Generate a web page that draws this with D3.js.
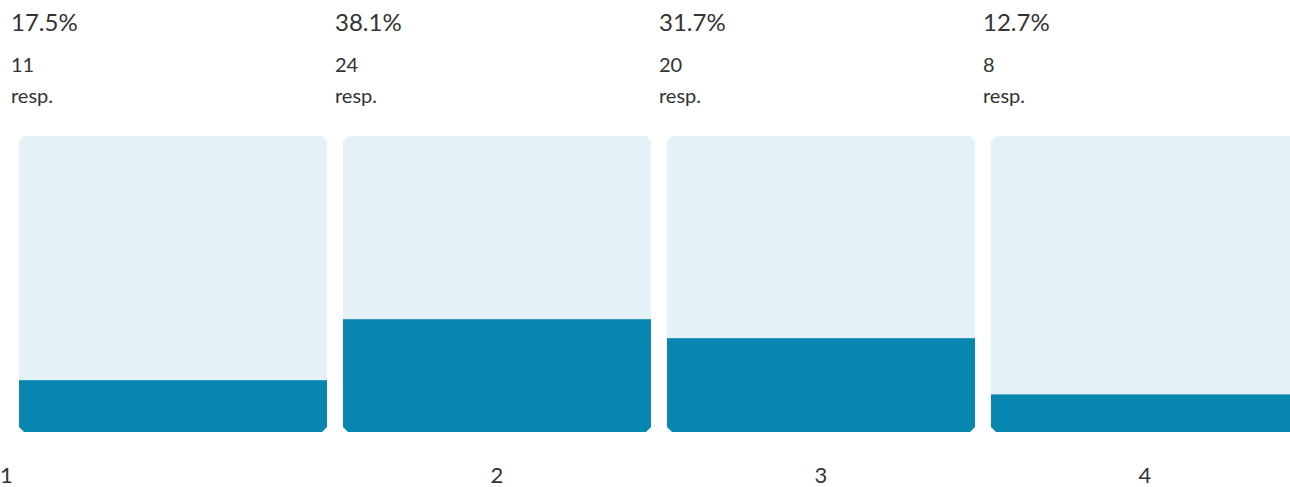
<!DOCTYPE html>
<html>
<head>
<meta charset="utf-8">
<script src="https://cdn.jsdelivr.net/npm/d3@7"></script>
<style>
  body { margin: 0; background: #fff; }
  svg { display: block; font-family: Lato, "Open Sans", sans-serif; }
</style>
</head>
<body>
<svg id="chart"></svg>
<script>
const categories = ["1", "2", "3", "4"];
const percents = [17.5, 38.1, 31.7, 12.7];
const counts = [11, 24, 20, 8];
const unitLabel = "resp.";

const width = 1290, height = 487;
const svg = d3.select("#chart").attr("width", width).attr("height", height);

const x = d3.scaleBand()
  .domain(categories)
  .range([19, 1299])
  .paddingInner(16 / 324)
  .paddingOuter(0);

const y = d3.scaleLinear().domain([0, 100]).range([432, 136]);

const cut = 5; // chamfered corners
const chamfer = (x0, y0, w, h) => {
  const x1 = x0 + w, y1 = y0 + h;
  return `M${x0 + cut},${y0} L${x1 - cut},${y0} L${x1},${y0 + cut} L${x1},${y1 - cut} L${x1 - cut},${y1} ` +
    `L${x0 + cut},${y1} L${x0},${y1 - cut} L${x0},${y0 + cut} Z`;
};

const defs = svg.append("defs");
categories.forEach((c, i) => {
  defs.append("clipPath").attr("id", "clip" + i)
    .append("path")
    .attr("d", chamfer(x(c), y(100), x.bandwidth(), y(0) - y(100)));
});

const panels = svg.selectAll("g.panel")
  .data(categories)
  .join("g")
    .attr("class", "panel");

panels.append("g")
  .attr("clip-path", (d, i) => `url(#clip${i})`)
  .call(g => {
    g.append("rect")
      .attr("x", d => x(d))
      .attr("y", y(100))
      .attr("width", x.bandwidth())
      .attr("height", y(0) - y(100))
      .attr("fill", "#e4f1f7");
    g.append("rect")
      .attr("x", d => x(d))
      .attr("y", (d, i) => y(percents[i]))
      .attr("width", x.bandwidth())
      .attr("height", (d, i) => y(0) - y(percents[i]))
      .attr("fill", "#0787b0");
  });

const textColor = "#333";

panels.append("text")
  .attr("x", d => x(d) - 8)
  .attr("y", 31)
  .attr("font-size", 24)
  .attr("fill", textColor)
  .text((d, i) => percents[i].toFixed(1) + "%");

panels.append("text")
  .attr("x", d => x(d) - 8)
  .attr("y", 72)
  .attr("font-size", 20)
  .attr("fill", textColor)
  .text((d, i) => counts[i]);

panels.append("text")
  .attr("x", d => x(d) - 8)
  .attr("y", 103)
  .attr("font-size", 20)
  .attr("fill", textColor)
  .text(unitLabel);

// category labels under panels (first one sits at the left edge)
panels.append("text")
  .attr("x", (d, i) => i === 0 ? 0 : x(d) + x.bandwidth() / 2)
  .attr("y", 483)
  .attr("text-anchor", (d, i) => i === 0 ? "start" : "middle")
  .attr("font-size", 22)
  .attr("fill", textColor)
  .text(d => d);
</script>
</body>
</html>
